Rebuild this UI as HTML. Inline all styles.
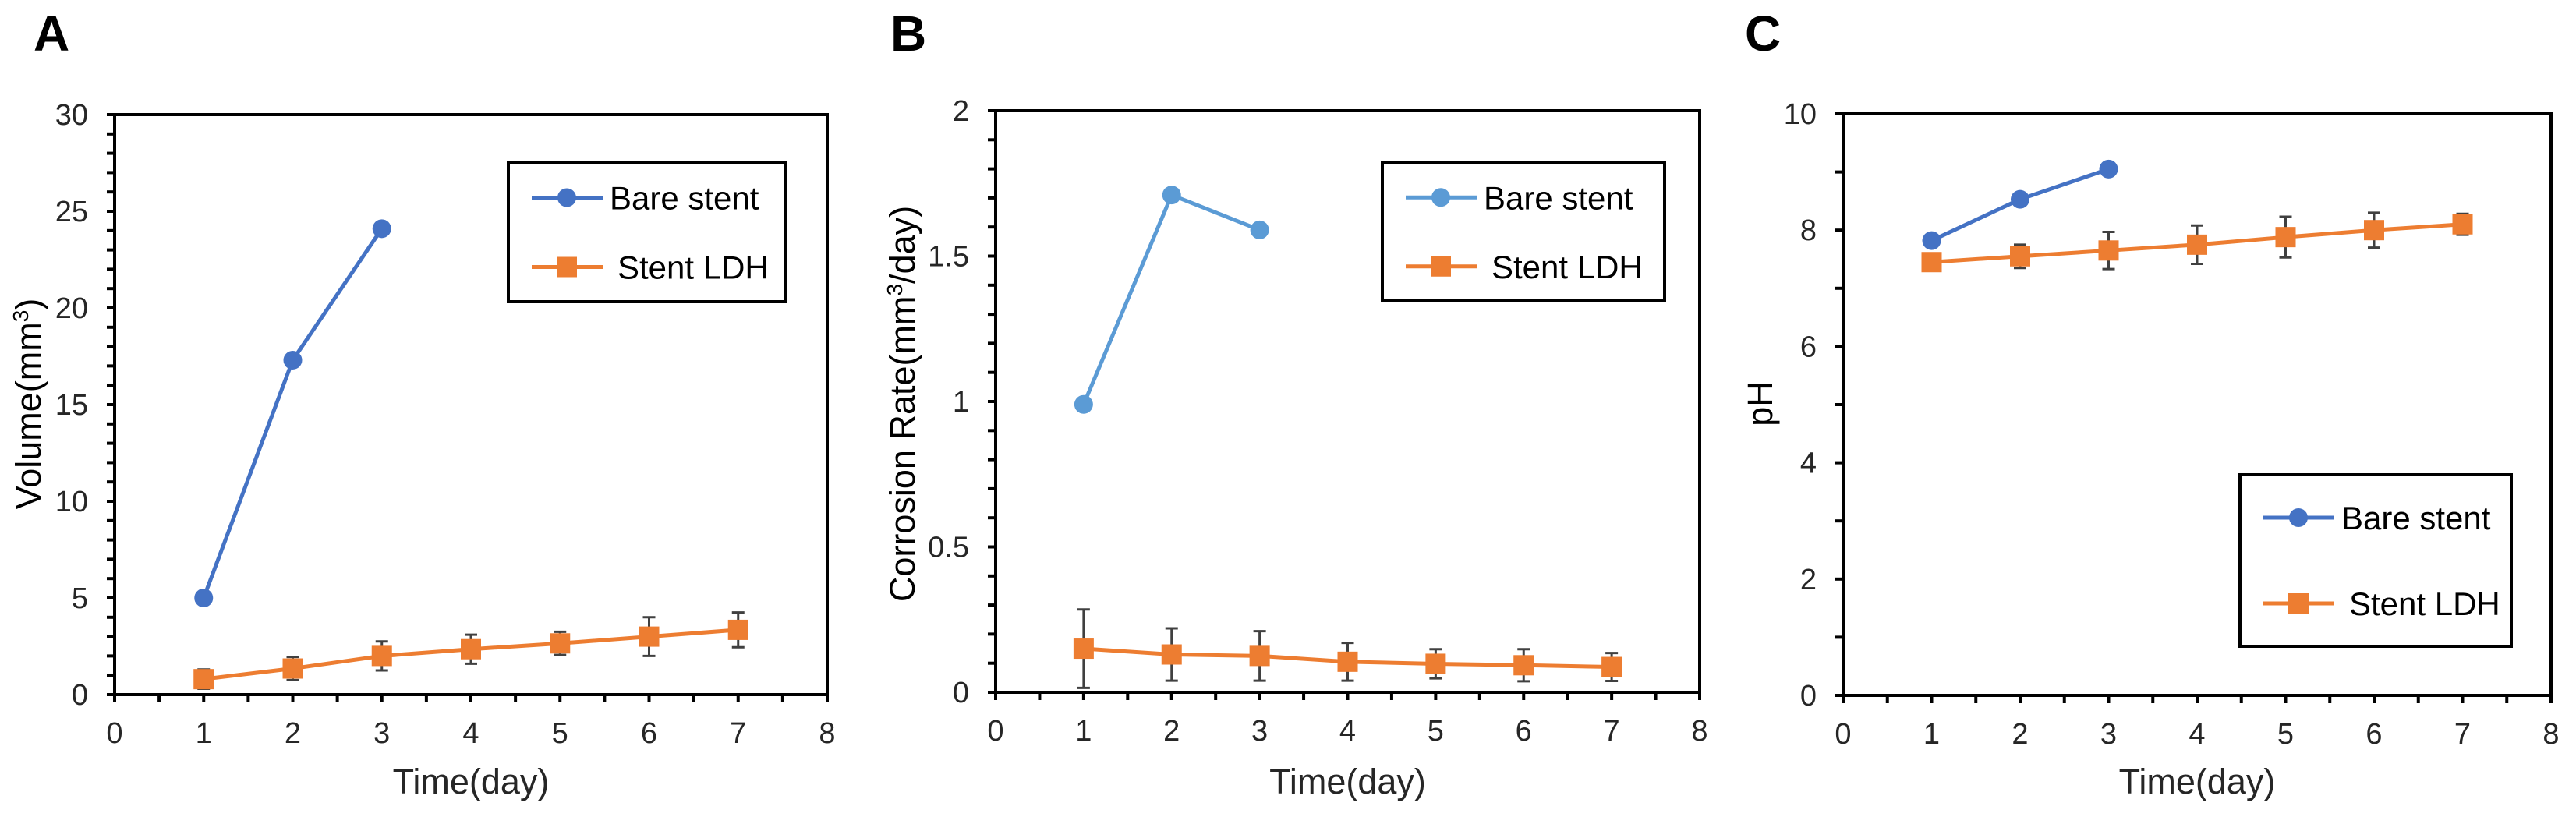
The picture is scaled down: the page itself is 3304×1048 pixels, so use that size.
<!DOCTYPE html>
<html><head><meta charset="utf-8">
<style>
html,body{margin:0;padding:0;background:#fff;}
svg{display:block;font-family:"Liberation Sans",sans-serif;}
</style></head>
<body>
<svg id="fig" width="3304" height="1048" viewBox="0 0 3304 1048" xmlns="http://www.w3.org/2000/svg"></svg>
<script>
const days = [1,2,3,4,5,6,7];
const bareDays = [1,2,3];
const volBare = [5.0,17.3,24.1];
const volLdh = [0.8,1.35,2.0,2.35,2.65,3.0,3.35];
const volLdhErr = [0.5,0.6,0.75,0.75,0.6,1.0,0.9];
const rateBare = [0.99,1.71,1.59];
const rateLdh = [0.15,0.13,0.125,0.105,0.098,0.093,0.087];
const rateLdhErr = [0.135,0.09,0.085,0.065,0.05,0.055,0.048];
const phBare = [7.82,8.53,9.05];
const phLdh = [7.45,7.55,7.65,7.75,7.88,8.0,8.1];
const phLdhErr = [0.1,0.2,0.32,0.33,0.35,0.3,0.18];
const xTicks = [0,1,2,3,4,5,6,7,8];
const volTicks = [0,5,10,15,20,25,30];
const rateTicks = [0,0.5,1,1.5,2];
const rateTickLabels = ['0','0.5','1','1.5','2'];
const phTicks = [0,2,4,6,8,10];

const NS='http://www.w3.org/2000/svg';
const svg=document.getElementById('fig');
function mk(tag,attrs,parent,text){
  const e=document.createElementNS(NS,tag);
  for(const k in attrs) e.setAttribute(k,attrs[k]);
  if(text!==undefined) e.textContent=text;
  (parent||svg).appendChild(e);
  return e;
}
function panel(cfg){
  const g=mk('g',{});
  
  
  const L=cfg.l,R=cfg.r,T=cfg.t,B=cfg.b;
  const sx=v=>L+(v-0)/8*(R-L);
  const sy=v=>B-(v-cfg.ymin)/(cfg.ymax-cfg.ymin)*(B-T);
  const lab=mk('text',{x:cfg.lx,y:65,'font-size':64,'font-weight':'bold',fill:'#000'},g,cfg.letter);
  
  
  // minor ticks x
  for(let v=0;v<=8.001;v+=0.5){
    mk('line',{x1:sx(v),x2:sx(v),y1:B,y2:B+10,stroke:'#000','stroke-width':4},g);
  }
  for(let v=cfg.ymin;v<=cfg.ymax+1e-6;v+=cfg.minor){
    mk('line',{x1:L-10,x2:L,y1:sy(v),y2:sy(v),stroke:'#000','stroke-width':4},g);
  }
  const frame=mk('rect',{x:L,y:T,width:R-L,height:B-T,fill:'none',stroke:'#000','stroke-width':4},g);
  
  
  xTicks.forEach(v=>{
    const t=mk('text',{x:sx(v),y:B+62,'font-size':38,'text-anchor':'middle',fill:'#262626'},g,String(v));
    
    
  });
  cfg.yt.forEach((v,i)=>{
    const t=mk('text',{x:L-34,y:sy(v)+13,'font-size':38,'text-anchor':'end',fill:'#262626'},g,cfg.ytl[i]);
    
    
  });
  const xt=mk('text',{x:(L+R)/2,y:1018,'font-size':45,'text-anchor':'middle',fill:'#262626'},g,'Time(day)');
  
  
  const yt=mk('text',{x:0,y:0,'font-size':45,'text-anchor':'middle',fill:'#000',transform:`translate(${cfg.ytx},518) rotate(-90)`},g);
  yt.innerHTML=cfg.ytitle;
  
  
  // LDH series
  const og='#ED7D31';
  const pts=days.map((d,i)=>sx(d)+','+sy(cfg.ldh[i])).join(' ');
  const pl=mk('polyline',{points:pts,fill:'none',stroke:og,'stroke-width':5},g);
  
  
  days.forEach((d,i)=>{
    const x=sx(d),y1=sy(cfg.ldh[i]+cfg.err[i]),y2=sy(Math.max(cfg.ymin,cfg.ldh[i]-cfg.err[i]));
    const eb=mk('path',{d:`M${x},${y1}V${y2}M${x-8},${y1}H${x+8}M${x-8},${y2}H${x+8}`,stroke:'#404040','stroke-width':3,fill:'none'},g);
    
    
  });
  days.forEach((d,i)=>{
    const m=mk('rect',{x:sx(d)-13,y:sy(cfg.ldh[i])-13,width:26,height:26,fill:og},g);
    
    
  });
  // bare
  const bpts=bareDays.map((d,i)=>sx(d)+','+sy(cfg.bare[i])).join(' ');
  const bl=mk('polyline',{points:bpts,fill:'none',stroke:cfg.bc,'stroke-width':5},g);
  
  
  bareDays.forEach((d,i)=>{
    const c=mk('circle',{cx:sx(d),cy:sy(cfg.bare[i]),r:12,fill:cfg.bc},g);
    
    
  });
  // legend
  const lg=mk('g',{},g);
  
  
  const[x0,y0,x1,y1]=cfg.leg;
  mk('rect',{x:x0,y:y0,width:x1-x0,height:y1-y0,fill:'#fff',stroke:'#000','stroke-width':4},lg);
  const r1=y0+(y1-y0)*0.25, r2=y0+(y1-y0)*0.75;
  const lx0=x0+30,lx1=x0+121,mx=x0+75;
  const e1=mk('g',{},lg);
  
  
  mk('line',{x1:lx0,x2:lx1,y1:r1,y2:r1,stroke:cfg.bc,'stroke-width':5},e1);
  mk('circle',{cx:mx,cy:r1,r:12,fill:cfg.bc},e1);
  mk('text',{x:x0+130,y:r1+15,'font-size':42,fill:'#000'},e1,'Bare stent');
  const e2=mk('g',{},lg);
  
  
  mk('line',{x1:lx0,x2:lx1,y1:r2,y2:r2,stroke:og,'stroke-width':5},e2);
  mk('rect',{x:mx-13,y:r2-13,width:26,height:26,fill:og},e2);
  mk('text',{x:x0+140,y:r2+15,'font-size':42,fill:'#000'},e2,'Stent LDH');
}
panel({id:'a',letter:'A',lx:43,l:147,r:1061,t:147,b:891,ymin:0,ymax:30,minor:1,yt:volTicks,ytl:volTicks.map(String),
  ytx:52,ytitle:'Volume(mm<tspan font-size="28" dy="-16">3</tspan><tspan dy="16">)</tspan>',ldh:volLdh,err:volLdhErr,bare:volBare,bc:'#4472C4',leg:[652,209,1007,387]});
panel({id:'b',letter:'B',lx:1142,l:1277,r:2180,t:142,b:888,ymin:0,ymax:2,minor:0.1,yt:rateTicks,ytl:rateTickLabels,
  ytx:1173,ytitle:'Corrosion Rate(mm<tspan font-size="28" dy="-16">3</tspan><tspan dy="16">/day)</tspan>',ldh:rateLdh,err:rateLdhErr,bare:rateBare,bc:'#5B9BD5',leg:[1773,209,2135,386]});
panel({id:'c',letter:'C',lx:2238,l:2364,r:3272,t:146,b:892,ymin:0,ymax:10,minor:1,yt:phTicks,ytl:phTicks.map(String),
  ytx:2273,ytitle:'pH',ldh:phLdh,err:phLdhErr,bare:phBare,bc:'#4472C4',leg:[2873,609,3221,829]});
</script>
</body></html>
